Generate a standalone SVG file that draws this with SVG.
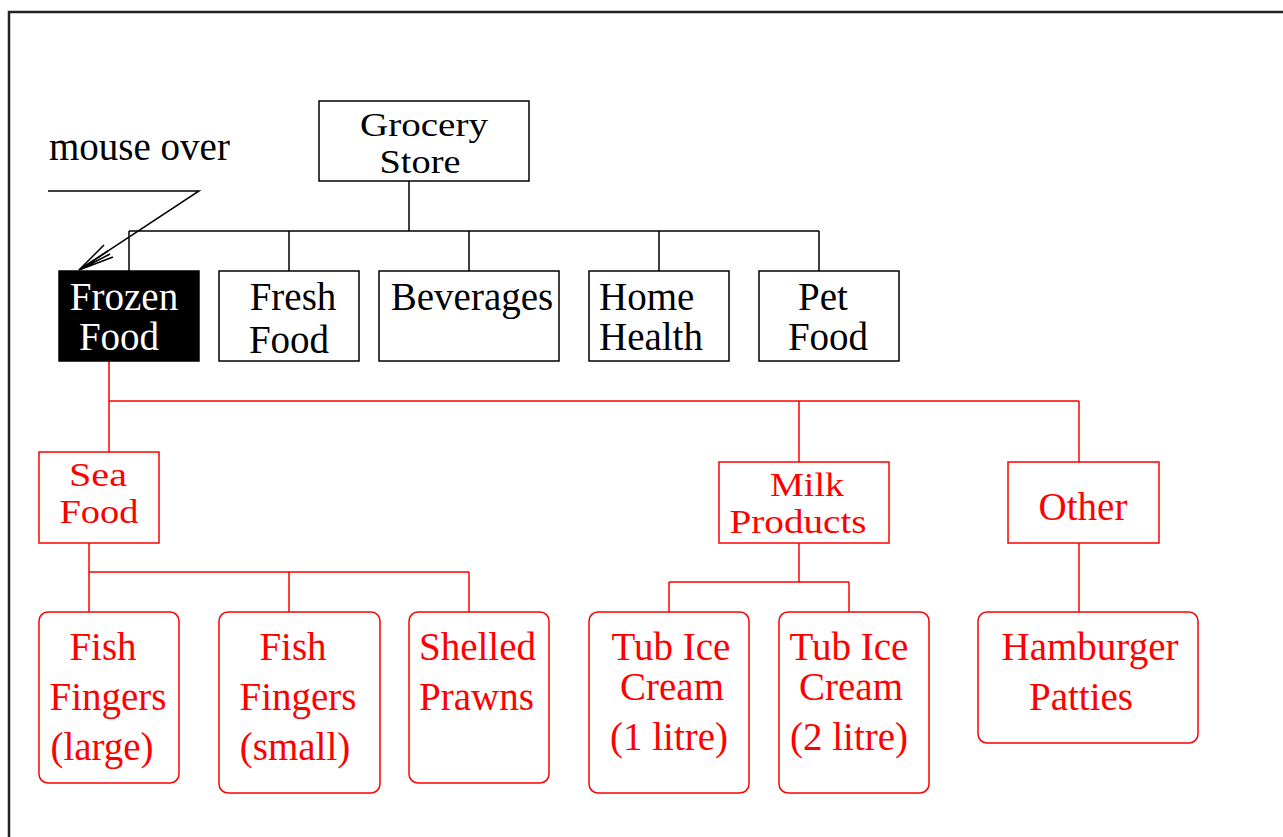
<svg xmlns="http://www.w3.org/2000/svg" width="1283" height="837" viewBox="0 0 1283 837">
<style>
text{font-family:"Liberation Serif","Times New Roman",serif;font-size:39px;}
.t{font-size:34px;}
.b rect{fill:#fff;stroke:#000;stroke-width:1.5;}
.b text{fill:#000;}
.r rect{fill:#fff;stroke:#f00;stroke-width:1.5;}
.r text{fill:#f00;}
.c{text-anchor:middle;}
.k{fill:none;stroke:#000;stroke-width:1.5;}
.rl{fill:none;stroke:#f00;stroke-width:1.5;}
</style>
<rect width="1283" height="837" fill="#fff"/>
<path d="M9,837 V12 H1283" fill="none" stroke="#222" stroke-width="2.5"/>

<g id="connectors">
<path class="k" d="M409,181 V231 M129,231 H819 M129,231 V271 M289,231 V271 M469,231 V271 M659,231 V271 M819,231 V271"/>
<path class="rl" d="M109,361 V401 H1079 M109,401 V452 M799,401 V462 M1079,401 V462"/>
<path class="rl" d="M89,543 V572 H469 M89,572 V612 M289,572 V612 M469,572 V612"/>
<path class="rl" d="M799,543 V582 M669,582 H849 M669,582 V612 M849,582 V612"/>
<path class="rl" d="M1079,543 V612"/>
</g>

<g id="mouse-over-note">
<text x="49" y="160" font-size="31">mouse over</text>
<path class="k" d="M48,191 H199 L79,270"/>
<path class="k" d="M104,245 L79,270 L113,257 M79,270 L108,251 M79,270 L110,254"/>
</g>

<g id="grocery-store" class="b">
<rect x="319" y="101" width="210" height="80"/>
<text class="c t" x="424" y="136" textLength="128" lengthAdjust="spacingAndGlyphs">Grocery</text>
<text class="c t" x="420" y="173" textLength="81" lengthAdjust="spacingAndGlyphs">Store</text>
</g>
<g id="frozen-food">
<rect x="59" y="271" width="140" height="90" fill="#000" stroke="#000" stroke-width="1.5"/>
<text class="c" x="124" y="310" fill="#fff">Frozen</text>
<text class="c" x="119" y="350" fill="#fff">Food</text>
</g>
<g id="fresh-food" class="b">
<rect x="219" y="271" width="140" height="90"/>
<text class="c" x="293" y="310">Fresh</text>
<text class="c" x="289" y="353">Food</text>
</g>
<g id="beverages" class="b">
<rect x="379" y="271" width="180" height="90"/>
<text class="c" x="472" y="310">Beverages</text>
</g>
<g id="home-health" class="b">
<rect x="589" y="271" width="140" height="90"/>
<text x="599" y="310">Home</text>
<text x="599" y="350">Health</text>
</g>
<g id="pet-food" class="b">
<rect x="759" y="271" width="140" height="90"/>
<text class="c" x="823" y="310">Pet</text>
<text class="c" x="828" y="350">Food</text>
</g>

<g id="sea-food" class="r">
<rect x="39" y="452" width="120" height="91"/>
<text class="c t" x="98" y="486" textLength="58" lengthAdjust="spacingAndGlyphs">Sea</text>
<text class="c t" x="99" y="523" textLength="79" lengthAdjust="spacingAndGlyphs">Food</text>
</g>
<g id="milk-products" class="r">
<rect x="719" y="462" width="170" height="81"/>
<text class="c t" x="807" y="496" textLength="74" lengthAdjust="spacingAndGlyphs">Milk</text>
<text class="c t" x="798" y="533" textLength="137" lengthAdjust="spacingAndGlyphs">Products</text>
</g>
<g id="other" class="r">
<rect x="1008" y="462" width="151" height="81"/>
<text class="c" x="1083" y="520">Other</text>
</g>

<g id="fish-fingers-large" class="r">
<rect x="39" y="612" width="140" height="171" rx="9"/>
<text class="c" x="103" y="660">Fish</text>
<text class="c" x="108" y="710">Fingers</text>
<text class="c" x="102" y="760">(large)</text>
</g>
<g id="fish-fingers-small" class="r">
<rect x="219" y="612" width="161" height="181" rx="9"/>
<text class="c" x="293" y="660">Fish</text>
<text class="c" x="298" y="710">Fingers</text>
<text class="c" x="295" y="760">(small)</text>
</g>
<g id="shelled-prawns" class="r">
<rect x="409" y="612" width="140" height="171" rx="9"/>
<text x="419" y="660">Shelled</text>
<text x="419" y="710">Prawns</text>
</g>
<g id="tub-ice-cream-1" class="r">
<rect x="589" y="612" width="160" height="181" rx="9"/>
<text class="c" x="671" y="660">Tub Ice</text>
<text class="c" x="672" y="700">Cream</text>
<text class="c" x="669" y="750">(1 litre)</text>
</g>
<g id="tub-ice-cream-2" class="r">
<rect x="779" y="612" width="150" height="181" rx="9"/>
<text class="c" x="849" y="660">Tub Ice</text>
<text class="c" x="851" y="700">Cream</text>
<text class="c" x="849" y="750">(2 litre)</text>
</g>
<g id="hamburger-patties" class="r">
<rect x="978" y="612" width="220" height="131" rx="9"/>
<text class="c" x="1090" y="660">Hamburger</text>
<text class="c" x="1081" y="710">Patties</text>
</g>
</svg>
